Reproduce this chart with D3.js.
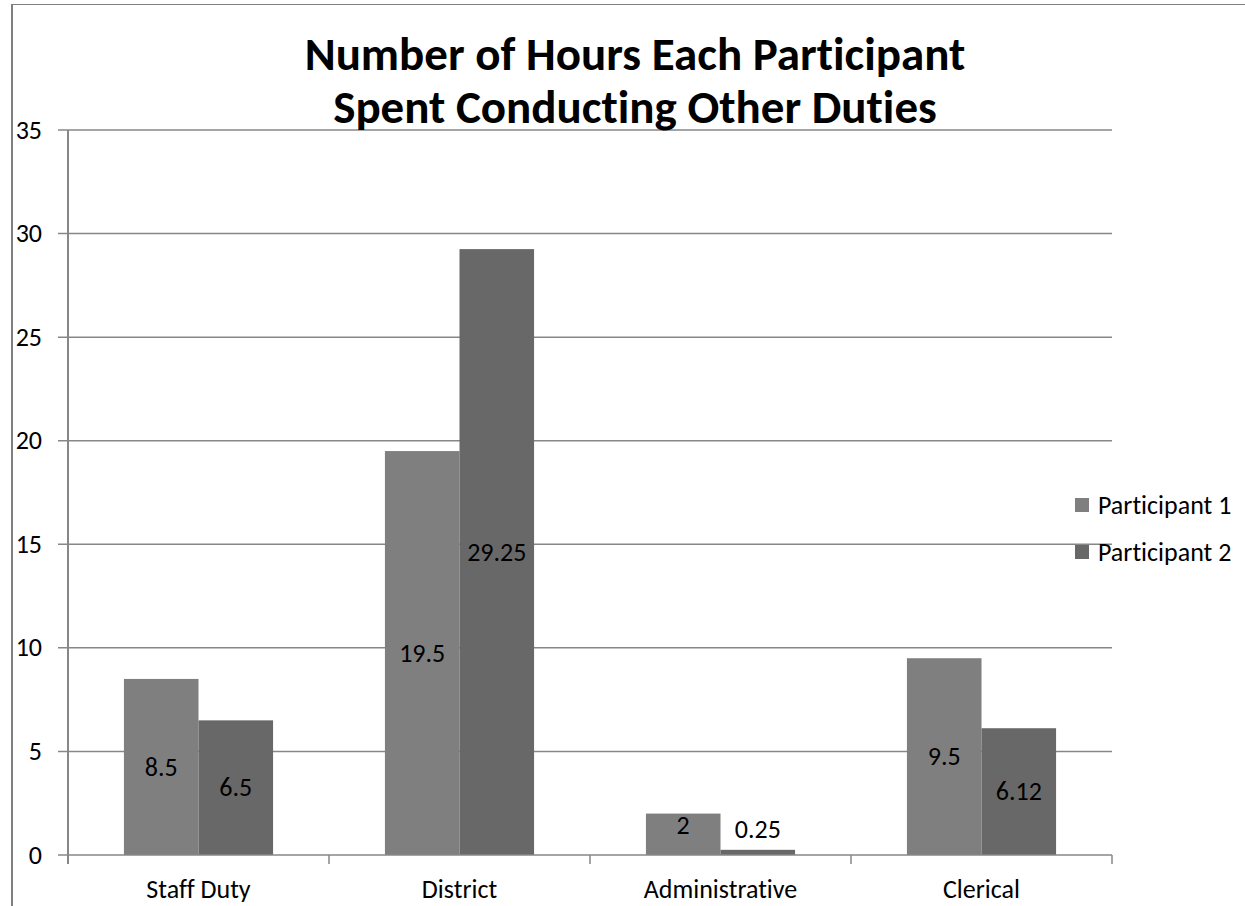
<!DOCTYPE html>
<html>
<head>
<meta charset="utf-8">
<script src="https://cdn.jsdelivr.net/npm/d3@7"></script>
<style>
  html, body { margin: 0; padding: 0; background: #fff; }
  svg { display: block; }
  text { font-family: Carlito, Calibri, Lato, sans-serif; fill: #000; font-variant-ligatures: none; font-feature-settings: "liga" 0, "clig" 0; }
</style>
</head>
<body>
<svg id="chart" width="1245" height="906"></svg>
<script>
// Hours spent on other duties, per participant
const categories = ["Staff Duty", "District", "Administrative", "Clerical"];
const seriesNames = ["Participant 1", "Participant 2"];
const participant1 = [8.5, 19.5, 2, 9.5];
const participant2 = [6.5, 29.25, 0.25, 6.12];
const yTicks = [0, 5, 10, 15, 20, 25, 30, 35];
const titleLines = ["Number of Hours Each Participant", "Spent Conducting Other Duties"];

const colors = ["#7f7f7f", "#686868"];
const gridColor = "#878787";
const fontSize = 26;

const svg = d3.select("#chart");
const W = 1245, H = 906;
const plot = { left: 68, right: 1112, top: 130, bottom: 855 };

// Frame lines on the left and top
svg.append("line").attr("x1", 12).attr("x2", 12).attr("y1", 4).attr("y2", H)
  .attr("stroke", "#808080").attr("stroke-width", 2);
svg.append("line").attr("x1", 11).attr("x2", W).attr("y1", 4.5).attr("y2", 4.5)
  .attr("stroke", "#808080").attr("stroke-width", 1);

const x0 = d3.scaleBand().domain(categories).range([plot.left, plot.right]).paddingInner(0).paddingOuter(0);
const x1 = d3.scaleBand().domain(seriesNames).range([0, x0.bandwidth()]).paddingInner(0).paddingOuter(0.75);
const y = d3.scaleLinear().domain([0, 35]).range([plot.bottom, plot.top]);

// Horizontal gridlines with short ticks left of the axis
svg.append("g").selectAll("line").data(yTicks.filter(t => t > 0)).join("line")
  .attr("x1", plot.left - 10).attr("x2", plot.right)
  .attr("y1", d => y(d)).attr("y2", d => y(d))
  .attr("stroke", gridColor).attr("stroke-width", 1.5);

// Y tick labels
svg.append("g").selectAll("text").data(yTicks).join("text")
  .attr("x", 42).attr("y", d => y(d)).attr("dy", "0.33em")
  .attr("text-anchor", "end").attr("font-size", fontSize)
  .text(d => d);

// Bars
const rows = categories.map((c, i) => ({ cat: c, vals: [participant1[i], participant2[i]] }));
const groups = svg.append("g").selectAll("g").data(rows).join("g")
  .attr("transform", d => `translate(${x0(d.cat)},0)`);

groups.selectAll("rect").data(d => d.vals.map((v, j) => ({ s: seriesNames[j], v, j }))).join("rect")
  .attr("x", d => x1(d.s)).attr("width", x1.bandwidth())
  .attr("y", d => y(d.v)).attr("height", d => y(0) - y(d.v))
  .attr("fill", d => colors[d.j]);

// Value labels: centred in the bar, at the inside end for short bars, above for tiny ones
groups.selectAll("text").data(d => d.vals.map((v, j) => ({ s: seriesNames[j], v, j }))).join("text")
  .attr("x", d => x1(d.s) + x1.bandwidth() / 2)
  .attr("y", d => {
    const h = y(0) - y(d.v);
    if (h < 20) return y(d.v) - 20;
    if (h < 60) return y(d.v) + 12;
    return (y(d.v) + y(0)) / 2;
  })
  .attr("dy", "0.33em").attr("text-anchor", "middle").attr("font-size", fontSize)
  .text(d => d.v);

// Axes lines
svg.append("line").attr("x1", plot.left).attr("x2", plot.left).attr("y1", plot.top).attr("y2", plot.bottom + 9)
  .attr("stroke", gridColor).attr("stroke-width", 2);
svg.append("line").attr("x1", plot.left - 10).attr("x2", plot.right).attr("y1", plot.bottom).attr("y2", plot.bottom)
  .attr("stroke", gridColor).attr("stroke-width", 1.5);

// Category boundary ticks
const bounds = categories.map(c => x0(c) + x0.bandwidth());
svg.append("g").selectAll("line").data(bounds).join("line")
  .attr("x1", d => d).attr("x2", d => d).attr("y1", plot.bottom).attr("y2", plot.bottom + 9)
  .attr("stroke", gridColor).attr("stroke-width", 1.5);

// Category labels
svg.append("g").selectAll("text").data(categories).join("text")
  .attr("x", d => x0(d) + x0.bandwidth() / 2).attr("y", 898)
  .attr("text-anchor", "middle").attr("font-size", fontSize)
  .text(d => d);

// Title
svg.append("g").selectAll("text").data(titleLines).join("text")
  .attr("x", 635).attr("y", (d, i) => 70 + i * 53)
  .attr("text-anchor", "middle").attr("font-size", 47).attr("font-weight", "bold")
  .text(d => d);

// Legend
const legend = svg.append("g").selectAll("g").data(seriesNames).join("g")
  .attr("transform", (d, i) => `translate(1075, ${505 + i * 47})`);
legend.append("rect").attr("x", 0).attr("y", -7).attr("width", 14).attr("height", 14)
  .attr("fill", (d, i) => colors[i]);
legend.append("text").attr("x", 23).attr("y", 0).attr("dy", "0.33em")
  .attr("font-size", fontSize).text(d => d);
</script>
</body>
</html>
